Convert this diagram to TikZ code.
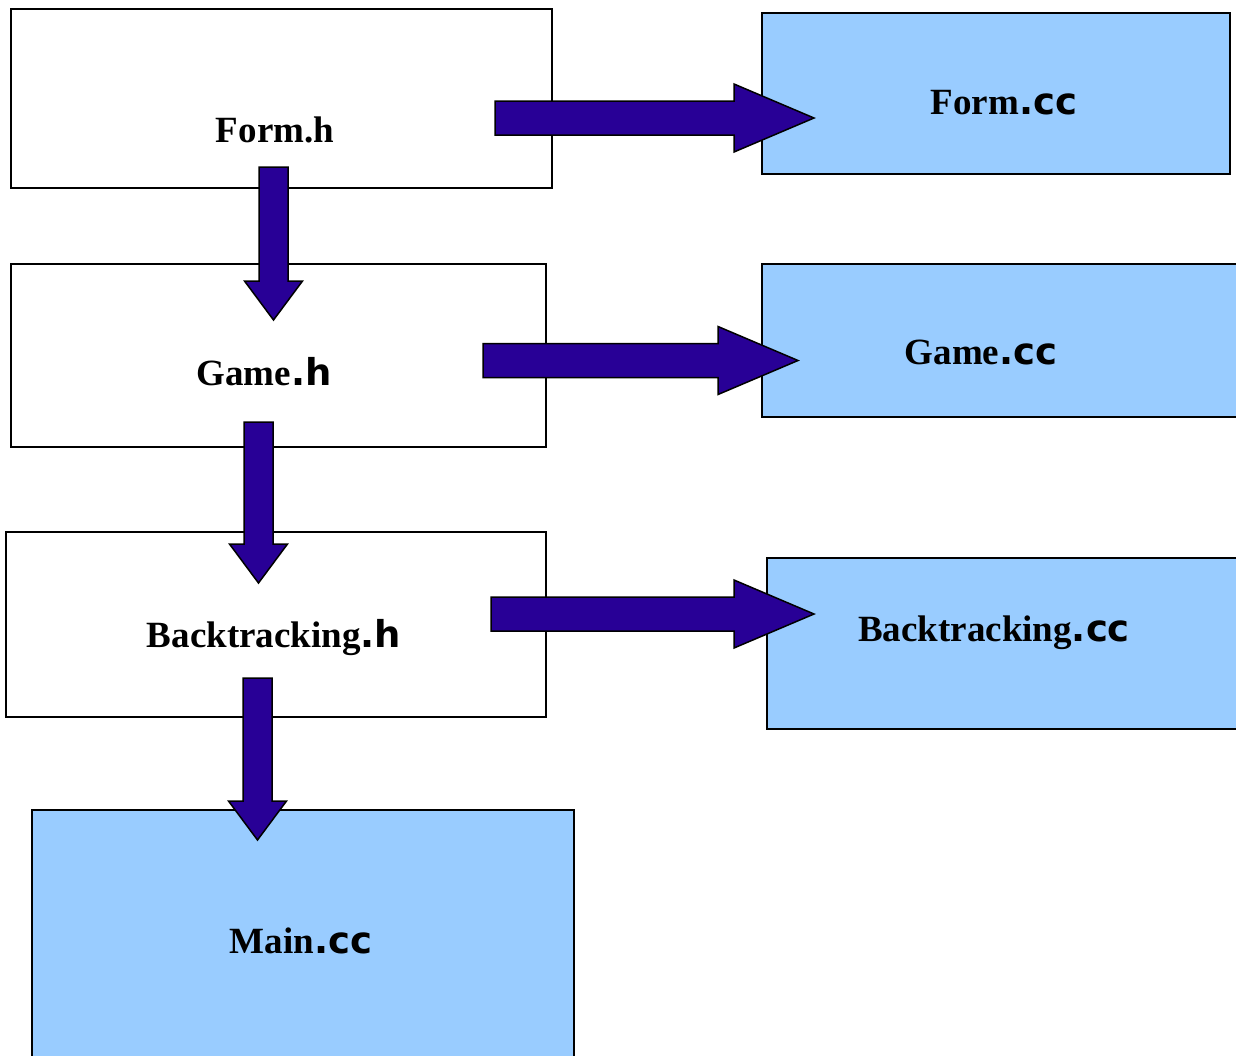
\documentclass[tikz,border=0pt]{standalone}
\usepackage{fontspec}
\setmainfont{Liberation Serif}
\newfontfamily\extfont{DejaVu Sans}
\usetikzlibrary{calc}

\definecolor{srcblue}{RGB}{153,204,255}
\definecolor{arrowblue}{RGB}{40,0,150}

\tikzset{
	headerbox/.style={draw, line width=1.2pt, fill=white, inner sep=0pt},
	sourcebox/.style={headerbox, fill=srcblue},
	filename/.style={anchor=base, font=\fontsize{37}{41}\selectfont\bfseries},
	rightarrow/.style={draw=black, fill=arrowblue, line width=1.5pt,
		to path={let \p1=(\tikztostart), \p2=(\tikztotarget) in
			(\x1,\y1+17pt) -- (\x2-80pt,\y1+17pt) -- (\x2-80pt,\y1+34pt) -- (\x2,\y1)
			-- (\x2-80pt,\y1-34pt) -- (\x2-80pt,\y1-17pt) -- (\x1,\y1-17pt) -- cycle}},
	downarrow/.style={draw=black, fill=arrowblue, line width=1.5pt,
		to path={let \p1=(\tikztostart), \p2=(\tikztotarget) in
			(\x1-14.5pt,\y1) -- (\x1-14.5pt,\y2+39pt) -- (\x1-29pt,\y2+39pt) -- (\x1,\y2)
			-- (\x1+29pt,\y2+39pt) -- (\x1+14.5pt,\y2+39pt) -- (\x1+14.5pt,\y1) -- cycle}}
}
\newcommand{\ext}[1]{{\extfont\bfseries #1}}

\begin{document}
\begin{tikzpicture}[x=1pt, y=-1pt]
	\useasboundingbox (0,0) rectangle (1236,1055);
	\clip (0,0) rectangle (1236,1055);
	% boxes
	\node[headerbox, minimum width=541pt, minimum height=179pt] (formh) at (281.5,98.5) {};
	\node[sourcebox, minimum width=468pt, minimum height=161pt] (formcc) at (996,93.5) {};
	\node[headerbox, minimum width=535pt, minimum height=183pt] (gameh) at (278.5,355.5) {};
	\node[sourcebox, minimum width=478pt, minimum height=153pt] (gamecc) at (1001,340.5) {};
	\node[headerbox, minimum width=540pt, minimum height=185pt] (backh) at (276,624.5) {};
	\node[sourcebox, minimum width=473pt, minimum height=171pt] (backcc) at (1003.5,643.5) {};
	\node[sourcebox, minimum width=542pt, minimum height=252pt] (maincc) at (303,936) {};
	% file names
	\node[filename] (formhlabel) at (275,142) {Form.h};
	\node[filename] (formcclabel) at (1004,114) {Form\ext{.cc}};
	\node[filename] (gamehlabel) at (264,385) {Game\ext{.h}};
	\node[filename] (gamecclabel) at (981,364) {Game\ext{.cc}};
	\node[filename] (backhlabel) at (274,647) {Backtracking\ext{.h}};
	\node[filename] (backcclabel) at (994,641) {Backtracking\ext{.cc}};
	\node[filename] (maincclabel) at (301,953) {Main\ext{.cc}};
	% arrow ends
	\coordinate (r1s) at (495,118);
	\coordinate (r1e) at (814,118);
	\coordinate (d1s) at (273.5,167);
	\coordinate (d1e) at (273.5,320);
	\coordinate (r2s) at (483,360.5);
	\coordinate (r2e) at (798,360.5);
	\coordinate (d2s) at (258.5,422);
	\coordinate (d2e) at (258.5,583);
	\coordinate (r3s) at (491,614);
	\coordinate (r3e) at (814,614);
	\coordinate (d3s) at (257.5,678);
	\coordinate (d3e) at (257.5,840);
	% arrows
	\draw[rightarrow] (r1s) to (r1e);
	\draw[downarrow] (d1s) to (d1e);
	\draw[rightarrow] (r2s) to (r2e);
	\draw[downarrow] (d2s) to (d2e);
	\draw[rightarrow] (r3s) to (r3e);
	\draw[downarrow] (d3s) to (d3e);
\end{tikzpicture}
\end{document}
